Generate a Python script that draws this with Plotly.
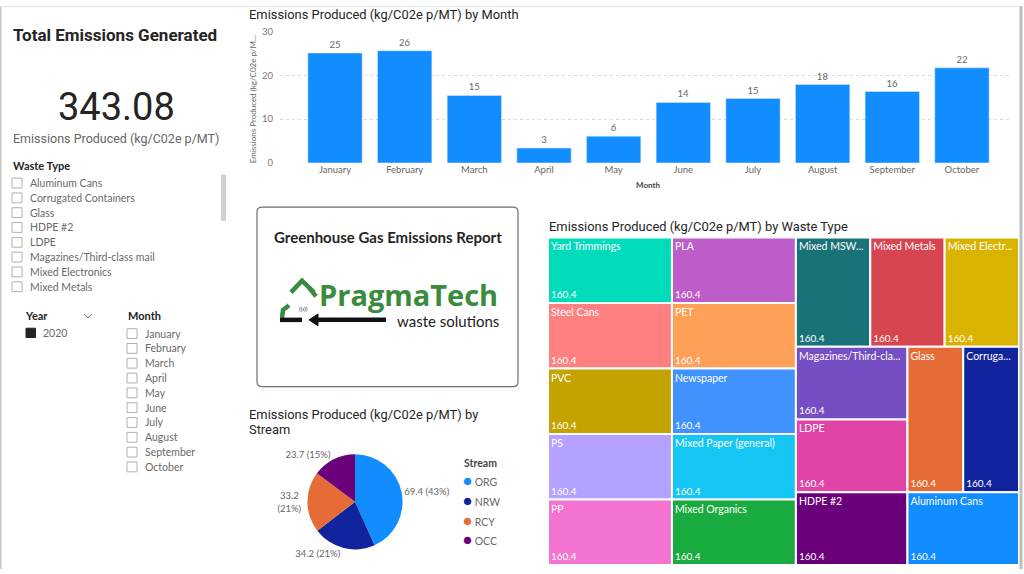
import plotly.graph_objects as go

# ---------------- data ----------------
months = ["January", "February", "March", "April", "May", "June",
          "July", "August", "September", "October"]
month_values = [25.1, 25.6, 15.4, 3.4, 6.1, 13.8, 14.7, 17.9, 16.3, 21.7]

streams = ["ORG", "NRW", "RCY", "OCC"]
stream_values = [69.4, 34.2, 33.2, 23.7]
stream_colors = ["#118DFF", "#12239E", "#E66C37", "#6B007B"]

waste_types = ["Yard Trimmings", "Steel Cans", "PVC", "PS", "PP",
               "PLA", "PET", "Newspaper", "Mixed Paper (general)", "Mixed Organics",
               "Mixed MSW", "Mixed Metals", "Mixed Electronics",
               "Magazines/Third-class mail", "LDPE", "HDPE #2",
               "Glass", "Corrugated Containers", "Aluminum Cans"]
# labels as displayed (truncated) on the tiles
waste_tile_text = ["Yard Trimmings", "Steel Cans", "PVC", "PS", "PP",
                   "PLA", "PET", "Newspaper", "Mixed Paper (general)", "Mixed Organics",
                   "Mixed MSW...", "Mixed Metals", "Mixed Electr...",
                   "Magazines/Third-cla...", "LDPE", "HDPE #2",
                   "Glass", "Corruga...", "Aluminum Cans"]
waste_values = [160.4, 160.4, 160.4, 160.4, 160.4,
                160.4, 160.4, 160.4, 160.4, 160.4,
                160.4, 160.4, 160.4,
                160.4, 160.4, 160.4,
                160.4, 160.4, 160.4]
waste_colors = ["#00DBBC", "#FF8080", "#C4A200", "#B5A1FF", "#F472D0",
                "#BE5DC9", "#FFA058", "#4092FF", "#15C6F4", "#1AAB40",
                "#197278", "#D64550", "#D9B300",
                "#744EC2", "#E044A7", "#6B007B",
                "#E66C37", "#12239E", "#118DFF"]

slicer_waste_items = ["Aluminum Cans", "Corrugated Containers", "Glass", "HDPE #2",
                      "LDPE", "Magazines/Third-class mail", "Mixed Electronics", "Mixed Metals"]
slicer_month_items = months
total_emissions = "343.08"

# ---------------- helpers ----------------
W, H = 1024, 574
def X(px): return px / W
def Y(py): return 1 - py / H

TITLE_FONT = "Roboto, DejaVu Sans, sans-serif"
BODY_FONT = "Segoe UI, Lato, Noto Sans, sans-serif"
DARK = "#252423"
GRAY = "#605E5C"

annotations = []
shapes = []

def text(x, y, s, size=10, color=GRAY, family=BODY_FONT, xanchor="left", angle=0):
    annotations.append(dict(x=X(x), y=Y(y), xref="paper", yref="paper", text=s,
                            showarrow=False, xanchor=xanchor, yanchor="middle",
                            textangle=angle, borderpad=0,
                            font=dict(size=size, color=color, family=family)))

def rect(x0, y0, x1, y1, line="#B3B0AD", fill=None, width=1):
    shapes.append(dict(type="rect", xref="paper", yref="paper",
                       x0=X(x0), y0=Y(y0), x1=X(x1), y1=Y(y1),
                       line=dict(color=line, width=width if line else 0),
                       fillcolor=fill if fill else "rgba(0,0,0,0)", layer="above"))

def path(points, color, width, close=False, fill=None):
    d = "M " + " L ".join(f"{X(a):.5f},{Y(b):.5f}" for a, b in points)
    if close:
        d += " Z"
    shapes.append(dict(type="path", xref="paper", yref="paper", path=d,
                       line=dict(color=color, width=width),
                       fillcolor=fill if fill else "rgba(0,0,0,0)", layer="above"))

fig = go.Figure()

# ---------------- bar chart ----------------
fig.add_trace(go.Bar(
    x=months, y=month_values, marker_color="#118DFF", width=0.78,
    texttemplate="%{y:.0f}", textposition="outside", cliponaxis=False,
    textfont=dict(size=9.5, color="#666666", family=BODY_FONT),
    showlegend=False, hoverinfo="x+y"))

# ---------------- pie ----------------
pie_templates = ["%{value:.1f} (%{percent:.0%})", "%{value:.1f} (%{percent:.0%})",
                 "%{value:.1f}<br>(%{percent:.0%})", "%{value:.1f} (%{percent:.0%})"]
fig.add_trace(go.Pie(
    labels=streams, values=stream_values, sort=False, direction="clockwise",
    rotation=0, marker=dict(colors=stream_colors, line=dict(width=0)),
    textposition="outside", texttemplate=pie_templates,
    textfont=dict(size=9.5, color="#666666", family=BODY_FONT),
    domain=dict(x=[X(307), X(403)], y=[Y(554), Y(457)]),
    showlegend=False, automargin=False))

# ---------------- treemap (tiles + labels) ----------------
tm_domain = dict(x=[X(548), X(1019)], y=[Y(570), Y(236)])
common = dict(labels=waste_types, parents=[""] * len(waste_types), values=waste_values,
              sort=False, domain=tm_domain, branchvalues="remainder",
              tiling=dict(packing="squarify", squarifyratio=1.618034, pad=0),
              pathbar=dict(visible=False), hoverinfo="label+value")
fig.add_trace(go.Treemap(
    **common, text=waste_tile_text,
    marker=dict(colors=waste_colors, line=dict(color="white", width=2),
                pad=dict(t=0, l=0, r=0, b=0)),
    texttemplate="%{text}", textposition="top left",
    textfont=dict(size=10.5, color="white", family=BODY_FONT)))
fig.add_trace(go.Treemap(
    **common,
    marker=dict(colors=["rgba(0,0,0,0)"] * len(waste_types), line=dict(width=0),
                pad=dict(t=0, l=0, r=0, b=0)),
    texttemplate="%{value:.1f}", textposition="bottom left",
    textfont=dict(size=10, color="white", family=BODY_FONT)))

# ---------------- page frame ----------------
rect(0, 0, 1.5, 574, line=None, fill="#C8C6C4")
rect(1019.5, 0, 1022.5, 574, line=None, fill="#BDBDBD")
rect(0, 0, 1019, 1, line=None, fill="#E6E6E6")

# ---------------- KPI card ----------------
text(12, 30, "<b>Total Emissions Generated</b>", 17, DARK, TITLE_FONT)
text(116, 103, total_emissions, 38, DARK, TITLE_FONT, xanchor="center")
text(116, 135, "Emissions Produced (kg/C02e p/MT)", 12.5, "#666666", TITLE_FONT, xanchor="center")

# ---------------- Waste type slicer ----------------
text(12, 163, "<b>Waste Type</b>", 11, DARK, BODY_FONT)
for i, name in enumerate(slicer_waste_items):
    cy = 180.5 + i * 15.1
    rect(12, cy - 5, 22, cy + 5)
    text(29, cy, name, 10.5, "#6B6966")
rect(221, 172, 226, 219, line=None, fill="#D0D0D0")

# ---------------- Year slicer ----------------
text(24, 316, "<b>Year</b>", 11, DARK)
path([(84, 314), (88, 318), (92, 314)], "#777777", 1)
rect(26, 328.5, 35.5, 338, line=DARK, fill=DARK)
text(42, 333, "2020", 10.5, "#6B6966")

# ---------------- Month slicer ----------------
text(127, 316, "<b>Month</b>", 11, DARK)
for i, name in enumerate(slicer_month_items):
    cy = 334 + i * 15.1
    rect(127, cy - 5, 137, cy + 5)
    text(144, cy, name, 10.5, "#6B6966")

# ---------------- bar chart decorations ----------------
text(248, 9, "Emissions Produced (kg/C02e p/MT) by Month", 12.9, DARK, TITLE_FONT)
text(253, 95, "Emissions Produced (kg/C02e p/M...", 8, "#666666", BODY_FONT,
     xanchor="center", angle=-90)
text(648, 183, "<b>Month</b>", 8, "#444444", BODY_FONT, xanchor="center")

# ---------------- logo card ----------------
x0, y0, x1, y1, r = 257, 205, 518, 388, 5
d = (f"M {X(x0+r)},{Y(y0)} L {X(x1-r)},{Y(y0)} Q {X(x1)},{Y(y0)} {X(x1)},{Y(y0+r)} "
     f"L {X(x1)},{Y(y1-r)} Q {X(x1)},{Y(y1)} {X(x1-r)},{Y(y1)} "
     f"L {X(x0+r)},{Y(y1)} Q {X(x0)},{Y(y1)} {X(x0)},{Y(y1-r)} "
     f"L {X(x0)},{Y(y0+r)} Q {X(x0)},{Y(y0)} {X(x0+r)},{Y(y0)} Z")
shapes.append(dict(type="path", xref="paper", yref="paper", path=d,
                   line=dict(color="#6E6E6E", width=1.2), fillcolor="rgba(0,0,0,0)"))
text(388, 236, "<b>Greenhouse Gas Emissions Report</b>", 15, DARK, BODY_FONT, xanchor="center")
GREEN = "#3B8B3F"
text(318, 294, "<b>PragmaTech</b>", 29, GREEN, "Open Sans, sans-serif")
text(500, 321, "waste solutions", 15, "#222222", "Lato, sans-serif", xanchor="right")
# recycle-style mark
path([(291, 292), (302, 280), (314, 292)], GREEN, 4.5)
path([(309, 287), (316, 296)], GREEN, 4.5)
path([(282, 318), (283, 310), (289, 305)], GREEN, 4.5)
path([(280, 320), (302, 320)], "#111111", 4.5)
path([(386, 320), (318, 320)], "#111111", 4.5)
path([(318, 314), (309, 320), (318, 326)], "#111111", 1, close=True, fill="#111111")
text(303, 308, "((ı))", 6.5, "#333333", BODY_FONT, xanchor="center")

# ---------------- pie decorations ----------------
text(248, 416, "Emissions Produced (kg/C02e p/MT) by", 12.9, DARK, TITLE_FONT)
text(248, 432, "Stream", 12.9, DARK, TITLE_FONT)
text(463, 466, "<b>Stream</b>", 10.5, "#444444")
for i, (name, col) in enumerate(zip(streams, stream_colors)):
    text(462, 483 + i * 20.3,
         f'<span style="color:{col};font-size:15px">●</span> {name}', 10.5, "#6B6966")

# ---------------- treemap title ----------------
text(548, 225, "Emissions Produced (kg/C02e p/MT) by Waste Type", 12.9, DARK, TITLE_FONT)

fig.update_layout(
    width=W, height=H, margin=dict(l=0, r=0, t=0, b=0),
    paper_bgcolor="white", plot_bgcolor="white",
    xaxis=dict(domain=[X(280), X(1010)], range=[-0.79, 9.69], showgrid=False,
               showline=False, ticks="", zeroline=False, fixedrange=True,
               tickfont=dict(size=9.5, color="#666666", family=BODY_FONT)),
    yaxis=dict(domain=[Y(160), Y(26)], range=[0, 30], dtick=10, showgrid=True,
               gridcolor="#D9D9D9", griddash="dot", zeroline=False, showline=False,
               fixedrange=True, ticks="", ticklabelstandoff=6,
               tickfont=dict(size=9.5, color="#777777", family=BODY_FONT)),
    annotations=annotations, shapes=shapes,
    font=dict(family=BODY_FONT),
)

fig.write_html("out.html", config={"displayModeBar": False}, post_script=(
    "document.body.style.margin='0px';document.body.style.padding='0px';"
    "document.body.style.overflow='hidden';"))
